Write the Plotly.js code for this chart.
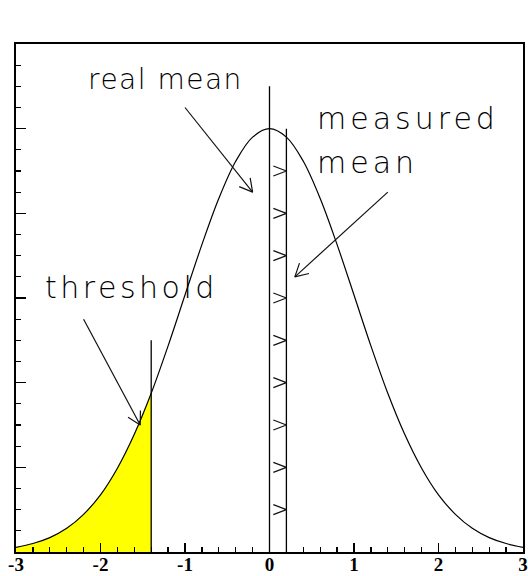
<!DOCTYPE html>
<html>
<head>
<meta charset="utf-8">
<script src="https://cdn.plot.ly/plotly-3.0.1.min.js"></script>
<style>
  html, body { margin: 0; padding: 0; background: #fff; }
  #chart { width: 528px; height: 576px; }
</style>
</head>
<body>
<div id="chart"></div>
<script>
// Standard normal density shape, sampled every 0.2
const curveX = [-3.0, -2.8, -2.6, -2.4, -2.2, -2.0, -1.8, -1.6, -1.4, -1.2, -1.0,
                -0.8, -0.6, -0.4, -0.2, 0.0, 0.2, 0.4, 0.6, 0.8, 1.0,
                1.2, 1.4, 1.6, 1.8, 2.0, 2.2, 2.4, 2.6, 2.8, 3.0];
const curveY = [0.011, 0.020, 0.034, 0.056, 0.089, 0.135, 0.198, 0.278, 0.375, 0.487, 0.607,
                0.726, 0.835, 0.923, 0.980, 1.000, 0.980, 0.923, 0.835, 0.726, 0.607,
                0.487, 0.375, 0.278, 0.198, 0.135, 0.089, 0.056, 0.034, 0.020, 0.011];

// Marker positions
const realMean = 0.0;
const measuredMean = 0.2;
const threshold = -1.4;
const realMeanTop = 1.10;
const measuredMeanTop = 1.0;
const thresholdTop = 0.5;

// Shift arrows between the two means
const shiftLevels = [0.1, 0.2, 0.3, 0.4, 0.5, 0.6, 0.7, 0.8, 0.9];

// Labels and their pointer arrows
const labels = [
  { text: 'real mean', size: 28, spacing: 1.5, pos: [-2.17, 1.115], tail: [-1.0, 1.05], tip: [-0.2, 0.85] },
  { text: 'measured', size: 30, spacing: 4, pos: [0.54, 1.023], tail: null, tip: null },
  { text: 'mean', size: 30, spacing: 4, pos: [0.54, 0.921], tail: [1.4, 0.85], tip: [0.3, 0.65] },
  { text: 'threshold', size: 30, spacing: 3.5, pos: [-2.68, 0.624], tail: [-2.2, 0.55], tip: [-1.53, 0.30] }
];

const xRange = [-3, 3];
const yRange = [0, 1.2];
const margin = { l: 16, r: 5, t: 44, b: 24 };
const W = 528, H = 576;
const kx = (W - margin.l - margin.r) / (xRange[1] - xRange[0]);
const ky = (H - margin.t - margin.b) / (yRange[1] - yRange[0]);

// Open "V" arrow head at (tx,ty) pointing away from (fx,fy)
function headPath(fx, fy, tx, ty, len, angDeg) {
  let du = (fx - tx) * kx, dv = (fy - ty) * ky;
  const n = Math.hypot(du, dv);
  du /= n; dv /= n;
  const a = angDeg * Math.PI / 180;
  const pts = [];
  for (const s of [1, -1]) {
    const ru = du * Math.cos(s * a) - dv * Math.sin(s * a);
    const rv = du * Math.sin(s * a) + dv * Math.cos(s * a);
    pts.push([tx + ru * len / kx, ty + rv * len / ky]);
  }
  return { x: [pts[0][0], tx, pts[1][0], null], y: [pts[0][1], ty, pts[1][1], null] };
}

// Fill region below the threshold
const fillX = [], fillY = [];
curveX.forEach((x, i) => { if (x <= threshold + 1e-9) { fillX.push(x); fillY.push(curveY[i]); } });

// Pointer arrows
const ptrX = [], ptrY = [];
labels.forEach(l => {
  if (!l.tail) return;
  ptrX.push(l.tail[0], l.tip[0], null);
  ptrY.push(l.tail[1], l.tip[1], null);
  const h = headPath(l.tail[0], l.tail[1], l.tip[0], l.tip[1], 14.5, 29);
  ptrX.push(...h.x); ptrY.push(...h.y);
});

// Heads of the shift arrows
const shX = [], shY = [];
shiftLevels.forEach(y => {
  const h = headPath(realMean, y, measuredMean, y, 14, 21);
  shX.push(...h.x); shY.push(...h.y);
});

const traces = [
  { x: fillX, y: fillY, type: 'scatter', mode: 'lines', fill: 'tozeroy',
    fillcolor: '#ffff00', line: { width: 0, shape: 'spline', color: '#ffff00' }, hoverinfo: 'skip' },
  { x: curveX, y: curveY, type: 'scatter', mode: 'lines',
    line: { color: '#000', width: 1.2, shape: 'spline' }, hoverinfo: 'skip' },
  { x: [realMean, realMean, null, measuredMean, measuredMean, null, threshold, threshold],
    y: [0, realMeanTop, null, 0, measuredMeanTop, null, 0, thresholdTop],
    type: 'scatter', mode: 'lines', line: { color: '#000', width: 1.3 }, hoverinfo: 'skip' },
  { x: shX, y: shY, type: 'scatter', mode: 'lines', line: { color: '#111', width: 1.2 }, hoverinfo: 'skip' },
  { x: ptrX, y: ptrY, type: 'scatter', mode: 'lines', line: { color: '#111', width: 1.2 }, hoverinfo: 'skip' }
];

const xTicks = [-3, -2, -1, 0, 1, 2, 3];

const layout = {
  width: W, height: H, margin: margin,
  paper_bgcolor: '#fff', plot_bgcolor: '#fff',
  showlegend: false,
  xaxis: {
    range: xRange, showgrid: false, zeroline: false,
    showline: true, linecolor: '#000', linewidth: 1.6, mirror: true,
    tickmode: 'array', tickvals: xTicks, ticktext: xTicks.map(String),
    ticks: 'inside', ticklen: 9, tickwidth: 1.3, tickcolor: '#000',
    minor: { dtick: 0.2, tick0: 0, ticks: 'inside', ticklen: 5, tickwidth: 1.3, tickcolor: '#000', showgrid: false },
    tickfont: { family: 'Liberation Serif', size: 19, weight: 'bold', color: '#000' },
    ticklabelstandoff: -5
  },
  yaxis: {
    range: yRange, showgrid: false, zeroline: false,
    showline: true, linecolor: '#000', linewidth: 1.6, mirror: true,
    showticklabels: false, tick0: 0, dtick: 0.2,
    ticks: 'inside', ticklen: 10, tickwidth: 1.3, tickcolor: '#000',
    minor: { dtick: 0.05, tick0: 0, ticks: 'inside', ticklen: 5, tickwidth: 1.3, tickcolor: '#000', showgrid: false }
  },
  annotations: labels.map(l => ({
    x: l.pos[0], y: l.pos[1], xref: 'x', yref: 'y', text: l.text, showarrow: false,
    xanchor: 'left', yanchor: 'middle',
    font: { family: 'DejaVu Sans', size: l.size, weight: 200, color: '#000' }
  }))
};

Plotly.newPlot('chart', traces, layout, { staticPlot: true, displayModeBar: false }).then(gd => {
  // Wide letter spacing for the thin label lettering; keep each label's left edge in place
  gd.querySelectorAll('.annotation-text').forEach((el, i) => {
    const w0 = el.getBBox().width;
    el.style.letterSpacing = labels[i].spacing + 'px';
    const w1 = el.getBBox().width;
    el.setAttribute('transform', 'translate(' + ((w1 - w0) / 2) + ',0)');
  });
});
</script>
</body>
</html>
